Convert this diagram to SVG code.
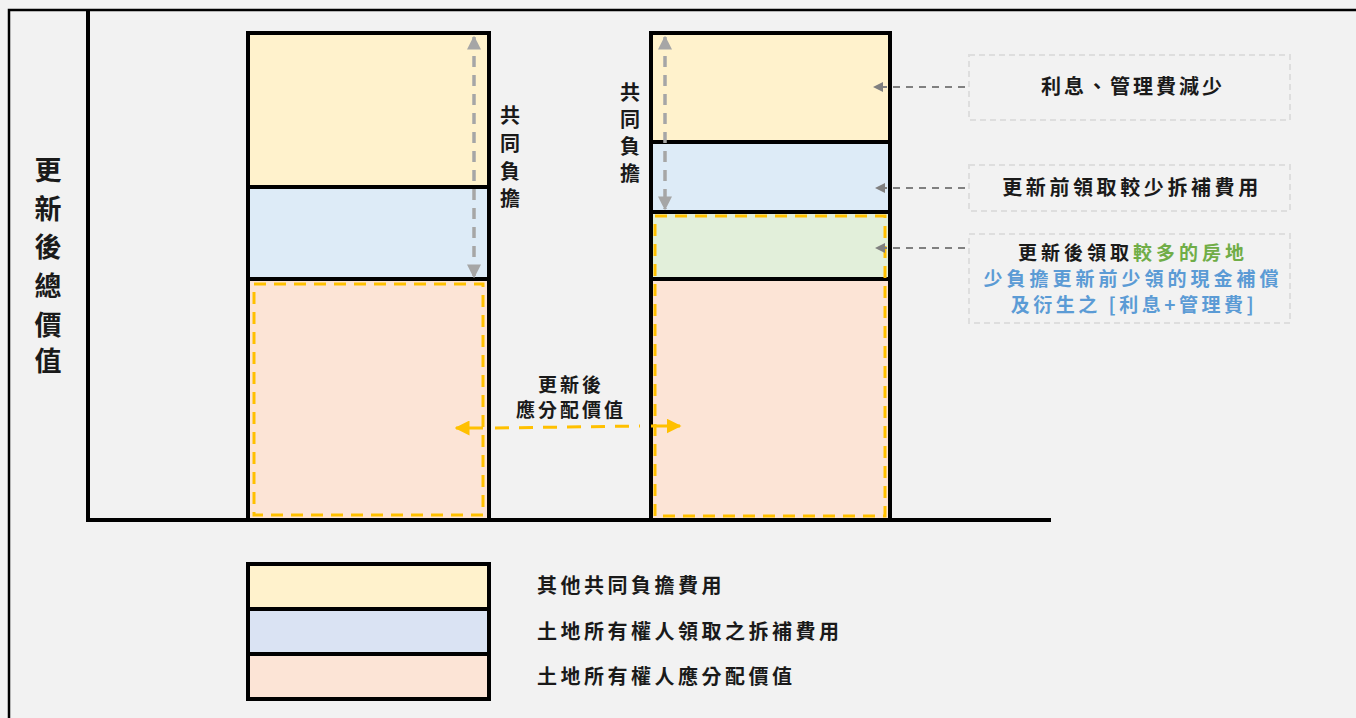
<svg xmlns="http://www.w3.org/2000/svg" width="1356" height="718" viewBox="0 0 1356 718">
<defs>
<style>
.t{font-family:"Noto Sans CJK TC","Noto Sans CJK SC",sans-serif;font-weight:bold;fill:#1a1a1a}
.bar{stroke:#000;stroke-width:4}
.ydash{fill:none;stroke:#FFC000;stroke-width:3;stroke-dasharray:12 8}
.gdash{fill:none;stroke:#A6A6A6;stroke-width:3.5;stroke-dasharray:11 8}
.adash{fill:none;stroke:#808080;stroke-width:2;stroke-dasharray:7 6}
.abox{fill:none;stroke:#DEDEDE;stroke-width:2;stroke-dasharray:6 4}
</style>
<marker id="ga" viewBox="0 0 10 10" refX="9" refY="5" markerWidth="4" markerHeight="4" markerUnits="strokeWidth" orient="auto-start-reverse"><path d="M0,0 L10,5 L0,10 z" fill="#A6A6A6"/></marker>
<marker id="aa" viewBox="0 0 10 10" refX="9" refY="5" markerWidth="5" markerHeight="5" markerUnits="strokeWidth" orient="auto-start-reverse"><path d="M0,0 L10,5 L0,10 z" fill="#808080"/></marker>
<marker id="ya" viewBox="0 0 10 10" refX="9" refY="5" markerWidth="5" markerHeight="5" markerUnits="strokeWidth" orient="auto-start-reverse"><path d="M0,0 L10,5 L0,10 z" fill="#FFC000"/></marker>
</defs>
<rect x="0" y="0" width="1356" height="718" fill="#F2F2F2"/>
<g id="frame" fill="none" stroke="#000">
<path d="M9,718 V10 H1356" stroke-width="2.5"/>
</g>
<g id="axes" stroke="#000" stroke-width="4" fill="none">
<path d="M88,10 V520 H1051"/>
</g>
<g id="ylabel">
<text class="t" font-size="27" text-anchor="middle">
<tspan x="48" y="180">更</tspan><tspan x="48" y="219">新</tspan><tspan x="48" y="257">後</tspan><tspan x="48" y="296">總</tspan><tspan x="48" y="335">價</tspan><tspan x="48" y="371">值</tspan>
</text>
</g>
<g id="bar-left">
<rect class="bar" x="248" y="33" width="241" height="154" fill="#FFF2CC"/>
<rect class="bar" x="248" y="187" width="241" height="92" fill="#DDEBF7"/>
<rect class="bar" x="248" y="279" width="241" height="241" fill="#FCE4D6"/>
<rect class="ydash" x="254" y="284" width="229" height="231"/>
</g>
<g id="bar-right">
<rect class="bar" x="651" y="33" width="239" height="109" fill="#FFF2CC"/>
<rect class="bar" x="651" y="142" width="239" height="70" fill="#DDEBF7"/>
<rect class="bar" x="651" y="212" width="239" height="67" fill="#E2EFDA"/>
<rect class="bar" x="651" y="279" width="239" height="241" fill="#FCE4D6"/>
<rect class="ydash" x="655" y="216" width="230" height="300"/>
</g>
<g id="label-shared-left">
<text class="t" font-size="20" text-anchor="middle">
<tspan x="510" y="123">共</tspan><tspan x="510" y="151">同</tspan><tspan x="510" y="179">負</tspan><tspan x="510" y="206">擔</tspan>
</text>
</g>
<g id="label-shared-right">
<text class="t" font-size="20" text-anchor="middle">
<tspan x="630" y="100">共</tspan><tspan x="630" y="127">同</tspan><tspan x="630" y="154">負</tspan><tspan x="630" y="181">擔</tspan>
</text>
</g>
<g id="label-alloc">
<text class="t" font-size="19" text-anchor="middle" letter-spacing="3"><tspan x="571" y="392">更新後</tspan><tspan x="571" y="417">應分配價值</tspan></text>
</g>
<g id="note-1">
<rect class="abox" x="969" y="55" width="321" height="65"/>
<text class="t" font-size="20" text-anchor="middle" letter-spacing="3" x="1133" y="94">利息、管理費減少</text>
</g>
<g id="note-2">
<rect class="abox" x="969" y="165" width="321" height="46"/>
<text class="t" font-size="20" text-anchor="middle" letter-spacing="3.6" x="1132" y="195">更新前領取較少拆補費用</text>
</g>
<g id="note-3">
<rect class="abox" x="969" y="234" width="321" height="89"/>
<text class="t" font-size="19" text-anchor="middle" letter-spacing="4" x="1133" y="260">更新後領取<tspan style="fill:#70AD47">較多的房地</tspan></text>
<text class="t" font-size="19" text-anchor="middle" letter-spacing="4" x="1133" y="286" style="fill:#5B9BD5">少負擔更新前少領的現金補償</text>
<text class="t" font-size="19" text-anchor="middle" letter-spacing="3.5" x="1134" y="312" style="fill:#5B9BD5">及衍生之 [利息+管理費]</text>
</g>
<g id="legend">
<rect class="bar" x="248" y="564" width="241" height="45" fill="#FFF2CC"/>
<rect class="bar" x="248" y="609" width="241" height="45" fill="#DAE3F3"/>
<rect class="bar" x="248" y="654" width="241" height="45" fill="#FCE4D6"/>
<text class="t" font-size="20" letter-spacing="3.5" x="537" y="593">其他共同負擔費用</text>
<text class="t" font-size="20" letter-spacing="3.5" x="537" y="639">土地所有權人領取之拆補費用</text>
<text class="t" font-size="20" letter-spacing="3.5" x="537" y="684">土地所有權人應分配價值</text>
</g>
<g id="connectors">
<line class="gdash" x1="474" y1="37" x2="474" y2="277" marker-start="url(#ga)" marker-end="url(#ga)"/>
<line class="gdash" x1="665" y1="37" x2="665" y2="209" marker-start="url(#ga)" marker-end="url(#ga)"/>
<line class="adash" x1="965" y1="87" x2="874" y2="87" marker-end="url(#aa)"/>
<line class="adash" x1="965" y1="188" x2="876" y2="188" marker-end="url(#aa)"/>
<line class="adash" x1="965" y1="248" x2="876" y2="248" marker-end="url(#aa)"/>
<path d="M495,428 L640,426" fill="none" stroke="#FFC000" stroke-width="3" stroke-dasharray="14 10"/>
<path d="M483,428 H456" fill="none" stroke="#FFC000" stroke-width="3" marker-end="url(#ya)"/>
<path d="M651,426 H680" fill="none" stroke="#FFC000" stroke-width="3" marker-end="url(#ya)"/>
</g>
</svg>
